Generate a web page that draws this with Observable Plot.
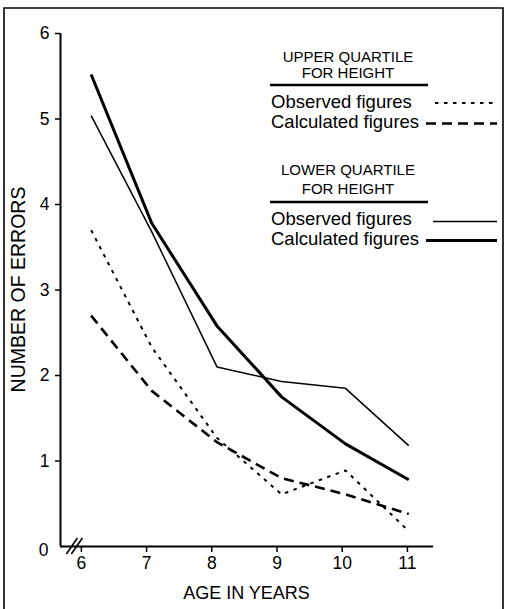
<!DOCTYPE html>
<html><head><meta charset="utf-8">
<script src="https://cdn.jsdelivr.net/npm/d3@7"></script>
<script src="https://cdn.jsdelivr.net/npm/@observablehq/plot@0.6"></script>
<style>
body{margin:0;background:#fff;}
#chart{position:relative;width:505px;height:609px;}
svg text{font-family:"Liberation Sans", Arial, Helvetica, sans-serif;}
</style></head><body><div id="chart"></div>
<script>
// Data
const ages = [6.15, 7.08, 8.08, 9.07, 10.05, 11.02];
const upperObserved   = [3.70, 2.33, 1.27, 0.61, 0.89, 0.18];
const upperCalculated = [2.70, 1.82, 1.22, 0.80, 0.61, 0.38];
const lowerObserved   = [5.04, 3.68, 2.10, 1.93, 1.85, 1.18];
const lowerCalculated = [5.52, 3.78, 2.58, 1.75, 1.20, 0.78];
const xTicks = [6, 7, 8, 9, 10, 11];
const yTicks = [0, 1, 2, 3, 4, 5, 6];
const xLabel = "AGE IN YEARS";
const yLabel = "NUMBER OF ERRORS";
const groupTitles = [["UPPER QUARTILE", "FOR HEIGHT"], ["LOWER QUARTILE", "FOR HEIGHT"]];
const seriesNames = ["Observed figures", "Calculated figures"];

const styles = {
  upperObserved:   {w: 2,   dash: "3.5,5.5"},
  upperCalculated: {w: 2.6, dash: "10,6"},
  lowerObserved:   {w: 1.5, dash: null},
  lowerCalculated: {w: 3,   dash: null}
};
const seriesData = {upperObserved, upperCalculated, lowerObserved, lowerCalculated};
const rows = Object.entries(seriesData).flatMap(([k, vals]) => ages.map((a, i) => ({series: k, age: a, errors: vals[i]})));

const xMin = 5.68, xMax = 11.4;
const plot = Plot.plot({
  width: 505, height: 609,
  marginLeft: 60, marginRight: 72, marginTop: 33, marginBottom: 63,
  style: {fontFamily: "Liberation Sans, Arial, sans-serif", fontSize: "17px", color: "black", background: "white", overflow: "visible"},
  x: {domain: [xMin, xMax], axis: null},
  y: {domain: [0, 6], axis: null},
  marks: [
    Plot.ruleY([0], {stroke: "black", strokeWidth: 2}),
    Plot.ruleX([xMin], {stroke: "black", strokeWidth: 2}),
    Plot.axisX(xTicks, {tickSize: 6, tickPadding: 4, strokeWidth: 1.5, fontSize: 17.5, label: null, tickFormat: "d"}),
    Plot.axisY(yTicks.filter(d => d > 0), {tickSize: 5, tickPadding: 6, strokeWidth: 1.5, fontSize: 17.5, label: null, tickFormat: "d"}),
    Plot.axisY([0], {tickSize: 0, tickPadding: 12, fontSize: 17.5, label: null, dy: 4, tickFormat: "d"}),
    ...Object.keys(seriesData).map(k => Plot.line(rows.filter(r => r.series === k), {
      x: "age", y: "errors", stroke: "black", strokeWidth: styles[k].w,
      strokeDasharray: styles[k].dash, strokeLinecap: "butt", strokeLinejoin: "miter"
    }))
  ]
});
document.getElementById("chart").appendChild(plot);

const svg = d3.select(plot);
const xs = plot.scale("x"), ys = plot.scale("y");
const x0 = xs.apply(xMin), y0 = ys.apply(0);

// frame border
svg.append("path").attr("d", "M4,609V8H503V609").attr("fill", "none").attr("stroke", "black").attr("stroke-width", 1.6);

// axis break marks
const bc = xs.apply(5.87);
[0, 5].forEach(off => svg.append("line")
  .attr("x1", bc - 6 + off).attr("y1", y0 + 8).attr("x2", bc + 5 + off).attr("y2", y0 - 8)
  .attr("stroke", "black").attr("stroke-width", 1.6));

// axis titles
svg.append("text").attr("x", (x0 + xs.apply(xMax)) / 2).attr("y", 599)
  .attr("text-anchor", "middle").attr("font-size", 18).text(xLabel);
svg.append("text").attr("transform", `translate(25,${(ys.apply(0) + ys.apply(6)) / 2}) rotate(-90)`)
  .attr("text-anchor", "middle").attr("font-size", 19.5).text(yLabel);

// legend
const legendGroups = [
  {titleY: [61.5, 78.3], ruleY: 85, rows: [
    {y: 108.3, sy: 103, k: "upperObserved", sx: 435},
    {y: 128.3, sy: 123.5, k: "upperCalculated", sx: 426}]},
  {titleY: [175, 194], ruleY: 202, rows: [
    {y: 225, sy: 221.5, k: "lowerObserved", sx: 433},
    {y: 245, sy: 240.5, k: "lowerCalculated", sx: 426}]}
];
legendGroups.forEach((g, gi) => {
  groupTitles[gi].forEach((t, ti) => svg.append("text").attr("x", 348).attr("y", g.titleY[ti])
    .attr("text-anchor", "middle").attr("font-size", 15).text(t));
  svg.append("line").attr("x1", 270).attr("x2", 428).attr("y1", g.ruleY).attr("y2", g.ruleY)
    .attr("stroke", "black").attr("stroke-width", 2.5);
  g.rows.forEach((r, ri) => {
    svg.append("text").attr("x", 271).attr("y", r.y).attr("text-anchor", "start")
      .attr("font-size", 18.5).text(seriesNames[ri]);
    const s = styles[r.k];
    svg.append("line").attr("x1", r.sx).attr("x2", 497).attr("y1", r.sy).attr("y2", r.sy)
      .attr("stroke", "black").attr("stroke-width", s.w).attr("stroke-dasharray", s.dash);
  });
});
</script></body></html>
